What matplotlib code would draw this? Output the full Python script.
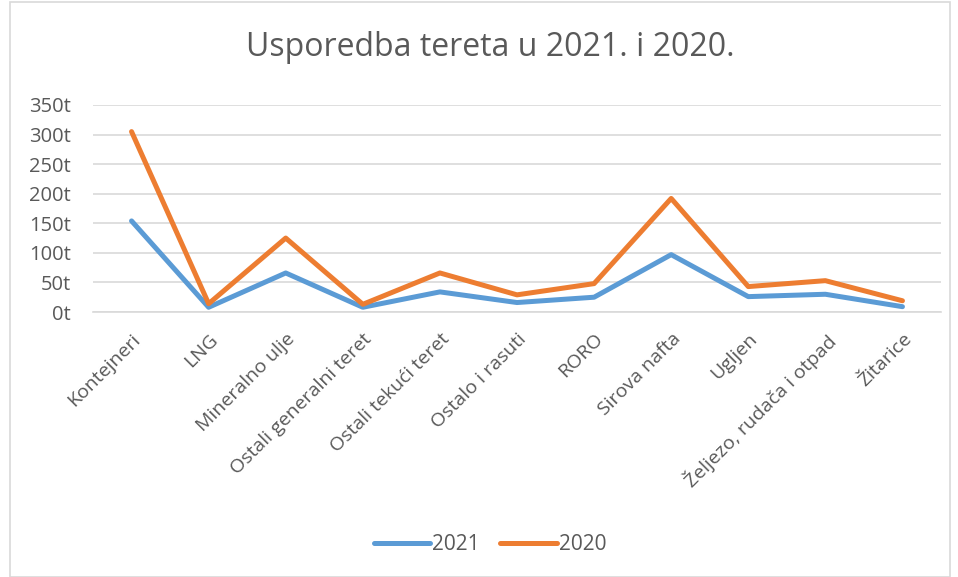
import matplotlib
matplotlib.use("Agg")
import matplotlib.pyplot as plt
from matplotlib.patches import Rectangle

categories = ["Kontejneri", "LNG", "Mineralno ulje", "Ostali generalni teret",
              "Ostali tekući teret", "Ostalo i rasuti", "RORO", "Sirova nafta",
              "Ugljen", "Željezo, rudača i otpad", "Žitarice"]
v2021 = [154, 8, 66, 8, 34, 16, 25, 97, 26, 30, 9]
v2020 = [305, 14, 125, 13, 66, 29, 48, 192, 43, 53, 19]
yticks = [0, 50, 100, 150, 200, 250, 300, 350]
ytick_labels = [f"{v}t" for v in yticks]

plt.rcParams['font.family'] = ['Open Sans', 'DejaVu Sans']

W, H = 958, 577
fig = plt.figure(figsize=(W / 100, H / 100), dpi=100)
ax = fig.add_axes([93 / W, 1 - 312 / H, (941 - 93) / W, (312 - 105) / H])

x = list(range(len(categories)))
ax.plot(x, v2021, color="#5B9BD5", lw=3.6, solid_capstyle="round", solid_joinstyle="round", label="2021", zorder=3)
ax.plot(x, v2020, color="#ED7D31", lw=3.6, solid_capstyle="round", solid_joinstyle="round", label="2020", zorder=3)

ax.set_xlim(-0.5, len(categories) - 0.5)
ax.set_ylim(0, 350)
ax.set_yticks(yticks)
ax.set_yticklabels(ytick_labels, fontsize=14.5, color="#595959")
ax.yaxis.grid(True, color="#D9D9D9", lw=1.2)
ax.set_axisbelow(True)
ax.tick_params(axis="both", length=0)
ax.tick_params(axis="y", pad=16)
for s in ["top", "right", "left"]:
    ax.spines[s].set_visible(False)
ax.spines["bottom"].set_color("#D9D9D9")
ax.spines["bottom"].set_linewidth(1.2)

ax.set_xticks(x)
ax.set_xticklabels(categories, rotation=45, ha="right", va="top",
                   rotation_mode="anchor", fontsize=14, color="#595959")
ax.tick_params(axis="x", pad=13)

fig.text(490 / W, 1 - 47 / H, "Usporedba tereta u 2021. i 2020.", ha="center", va="center",
         fontsize=23, color="#595959")

leg = fig.legend(loc="center", bbox_to_anchor=(490 / W, 1 - 545 / H), ncol=2, frameon=False,
                 fontsize=15, handlelength=2.7, handletextpad=0.1, columnspacing=1.0)
for t in leg.get_texts():
    t.set_color("#595959")

fig.patches.append(Rectangle((10 / W, 0), (950 - 10) / W, 1 - 2 / H, transform=fig.transFigure,
                             fill=False, edgecolor="#D9D9D9", lw=1.2))

fig.savefig("out.png", dpi=100, facecolor="white")
